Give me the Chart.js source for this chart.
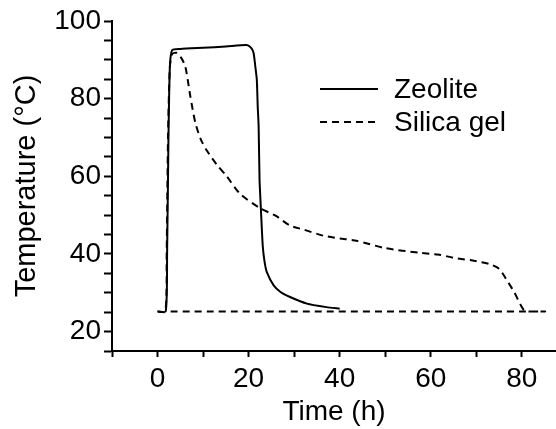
<!DOCTYPE html>
<html>
<head>
<meta charset="utf-8">
<script src="https://cdn.jsdelivr.net/npm/chart.js@4.4.1/dist/chart.umd.min.js"></script>
<style>
  html, body { margin: 0; padding: 0; background: #fff; }
  #wrap { width: 556px; height: 429px; }
</style>
</head>
<body>
<div id="wrap"><canvas id="grafico" width="556" height="429"></canvas></div>
<script>
// Zeolite: tempo (h) e temperatura (°C)
const tempoZeolite = [0, 1.8, 2.1, 2.4, 2.7, 3.2, 5, 10, 15, 19.6, 20.6, 21.1, 21.5, 21.8, 22.0, 22.2, 22.4, 22.7, 23.1, 23.5, 24, 25.5, 27, 29.1, 32.8, 37.1, 40];
const tempZeolite  = [25.2, 25.2, 40, 70, 88, 92.5, 92.8, 93.1, 93.4, 93.8, 93.0, 91.7, 88, 84.9, 78, 72.9, 59.2, 51.5, 42.1, 38, 35.3, 31.9, 30.2, 28.9, 27.2, 26.3, 25.9];

// Silica gel (a linha volta pela base até o início)
const tempoSilica = [0, 1.7, 2.0, 2.3, 2.7, 3.2, 4.3, 5.2, 6.1, 7.2, 8.3, 9.5, 10.9, 13, 15.2, 18.1, 22.5, 26, 29.1, 32, 36.4, 40, 43.7, 50, 57.5, 61.9, 65, 69.2, 72.9, 75, 76.5, 78.3, 79.8, 80.5, 81.5, 85, 2];
const tempSilica  = [25.2, 25.2, 40, 70, 88, 91.5, 91.8, 90.5, 88.3, 80.6, 73.8, 69.5, 66.5, 63, 60, 55.5, 51.8, 49.8, 47.3, 46.3, 44.7, 44, 43.4, 41.5, 40.3, 39.8, 39, 38.3, 37.4, 36.2, 33.6, 30.2, 26.7, 25.5, 25.2, 25.2, 25.2];

const rotulos = ['Zeolite', 'Silica gel'];
const ticksX = [-10, 0, 10, 20, 30, 40, 50, 60, 70, 80];
const rotulosX = [0, 20, 40, 60, 80];
const ticksY = [15, 20, 25, 30, 35, 40, 45, 50, 55, 60, 65, 70, 75, 80, 85, 90, 95, 100];
const rotulosY = [20, 40, 60, 80, 100];

const fonte = 'Liberation Sans, Arial, sans-serif';

function pontos(xs, ys) {
  return xs.map((x, i) => ({ x, y: ys[i] }));
}

// legenda desenhada à mão, dentro da área do gráfico
const legendaManual = {
  id: 'legendaManual',
  afterDraw(chart) {
    const ctx = chart.ctx;
    ctx.save();
    chart.data.datasets.forEach((ds, i) => {
      const y = 89 + i * 33;
      ctx.strokeStyle = ds.borderColor;
      ctx.lineWidth = ds.borderWidth;
      ctx.setLineDash(ds.borderDash || []);
      ctx.beginPath();
      ctx.moveTo(320, y);
      ctx.lineTo(378, y);
      ctx.stroke();
      ctx.setLineDash([]);
      ctx.fillStyle = '#000';
      ctx.font = '28px ' + fonte;
      ctx.textBaseline = 'middle';
      ctx.fillText(ds.label, 394, y + 1);
    });
    ctx.restore();
  }
};

new Chart(document.getElementById('grafico'), {
  type: 'line',
  data: {
    datasets: [
      {
        label: rotulos[0],
        data: pontos(tempoZeolite, tempZeolite),
        borderColor: '#000',
        borderWidth: 2,
        pointRadius: 0,
        tension: 0.2
      },
      {
        label: rotulos[1],
        data: pontos(tempoSilica, tempSilica),
        borderColor: '#000',
        borderWidth: 2,
        borderDash: [7, 5],
        pointRadius: 0,
        tension: 0.25
      }
    ]
  },
  options: {
    responsive: false,
    animation: false,
    layout: { padding: { top: 21, right: 0, left: 0, bottom: 0 } },
    plugins: {
      legend: { display: false },
      tooltip: { enabled: false }
    },
    scales: {
      x: {
        type: 'linear',
        min: -10,
        max: 87.5,
        afterBuildTicks: s => { s.ticks = ticksX.map(v => ({ value: v })); },
        afterFit: s => { s.height = 78; },
        grid: { drawOnChartArea: false, tickLength: 6, tickColor: '#000', tickWidth: 2 },
        border: { color: '#000', width: 2 },
        ticks: {
          color: '#000',
          font: { family: fonte, size: 28 },
          padding: 5,
          maxRotation: 0,
          autoSkip: false,
          callback: v => rotulosX.includes(v) ? String(v) : ''
        },
        title: {
          display: true,
          text: 'Time (h)',
          color: '#000',
          font: { family: fonte, size: 28 },
          padding: { top: 0, bottom: 0 }
        }
      },
      y: {
        min: 15,
        max: 100,
        afterBuildTicks: s => { s.ticks = ticksY.map(v => ({ value: v })); },
        afterFit: s => { s.width = 112; },
        grid: { drawOnChartArea: false, tickLength: 8, tickColor: '#000', tickWidth: 2 },
        border: { color: '#000', width: 2 },
        ticks: {
          color: '#000',
          font: { family: fonte, size: 28 },
          padding: 3,
          autoSkip: false,
          callback: v => rotulosY.includes(v) ? String(v) : ''
        },
        title: {
          display: true,
          text: 'Temperature (°C)',
          color: '#000',
          font: { family: fonte, size: 29 },
          padding: { top: 10, bottom: 0 }
        }
      }
    }
  },
  plugins: [legendaManual]
});
</script>
</body>
</html>
